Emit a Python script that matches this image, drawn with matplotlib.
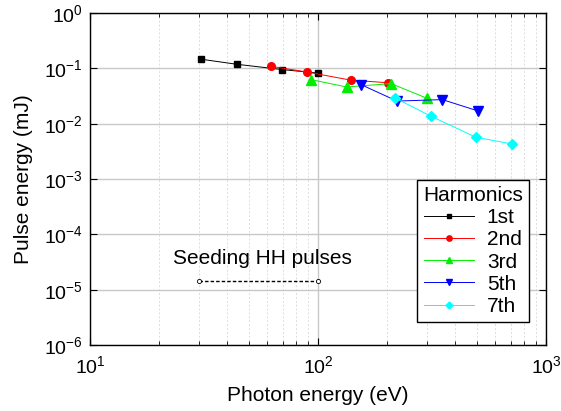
import matplotlib
matplotlib.use("Agg")
import matplotlib.pyplot as plt
from matplotlib.ticker import LogLocator, NullFormatter

plt.rcParams['font.family'] = ['Liberation Sans', 'DejaVu Sans']
plt.rcParams['mathtext.fontset'] = 'custom'
plt.rcParams['mathtext.rm'] = 'Liberation Sans'

# photon energy (eV) and pulse energy (mJ) for each harmonic
e_1st = [30.7, 44.3, 69.6, 100]
p_1st = [0.146, 0.118, 0.095, 0.082]
e_2nd = [61.9, 89.1, 139.7, 201.8]
p_2nd = [0.109, 0.086, 0.061, 0.055]
e_3rd = [93.2, 133.6, 209, 301]
p_3rd = [0.0625, 0.046, 0.053, 0.0287]
e_5th = [154.5, 222, 351, 505]
p_5th = [0.0507, 0.0256, 0.0272, 0.0169]
e_7th = [218, 313, 492, 708]
p_7th = [0.029, 0.0136, 0.0057, 0.0043]

seed_e = [30, 100]
seed_p = [1.45e-5, 1.45e-5]

fig = plt.figure(figsize=(5.61, 4.11), dpi=100)
ax = fig.add_axes([0.1604, 0.1606, 0.8129, 0.8078])

ax.plot(e_1st, p_1st, "-s", color="black", lw=0.7, ms=5, label="1st")
ax.plot(e_2nd, p_2nd, "-o", color="red", lw=0.7, ms=5.5, label="2nd")
ax.plot(e_3rd, p_3rd, "-^", color="#00ee00", lw=0.7, ms=6.5, label="3rd")
ax.plot(e_5th, p_5th, "-v", color="blue", lw=0.7, ms=6.5, label="5th")
ax.plot(e_7th, p_7th, "-D", color="cyan", lw=0.7, ms=5, label="7th")

ax.plot(seed_e, seed_p, "--o", color="black", lw=1, ms=3, mfc="white", mew=0.6, dashes=(2.5, 1.5))
ax.text(57, 2.5e-5, "Seeding HH pulses", ha="center", va="bottom", fontsize=15)

ax.set_xscale("log")
ax.set_yscale("log")
ax.set_xlim(10, 1000)
ax.set_ylim(1e-6, 1)
ax.yaxis.set_major_locator(LogLocator(base=10, numticks=10))
ax.yaxis.set_minor_locator(LogLocator(base=10, subs=[], numticks=10))
ax.xaxis.set_minor_formatter(NullFormatter())

ax.grid(True, which="major", color="#c8c8c8", lw=1, ls="-")
ax.grid(True, which="minor", axis="x", color="#dcdcdc", lw=0.7, ls=(0, (2, 2)))
ax.set_axisbelow(True)

ax.tick_params(which="both", direction="in", top=True, right=True, labelsize=14)
ax.tick_params(which="major", length=5)
ax.tick_params(which="minor", length=3)
ax.tick_params(axis="x", pad=7)
ax.tick_params(axis="y", pad=5)
for s in ax.spines.values():
    s.set_linewidth(1)

ax.set_xlabel("Photon energy (eV)", fontsize=15, labelpad=7)
ax.set_ylabel("Pulse energy (mJ)", fontsize=15, labelpad=8)

leg = ax.legend(title="Harmonics", loc="lower right", bbox_to_anchor=(0.963, 0.069),
                borderaxespad=0, fontsize=15, title_fontsize=15, fancybox=False,
                edgecolor="black", framealpha=1, markerscale=0.7, handlelength=2.4,
                labelspacing=0.15, borderpad=0.3, handletextpad=0.6)
leg.get_frame().set_linewidth(1)

fig.savefig("out.png", dpi=100)
